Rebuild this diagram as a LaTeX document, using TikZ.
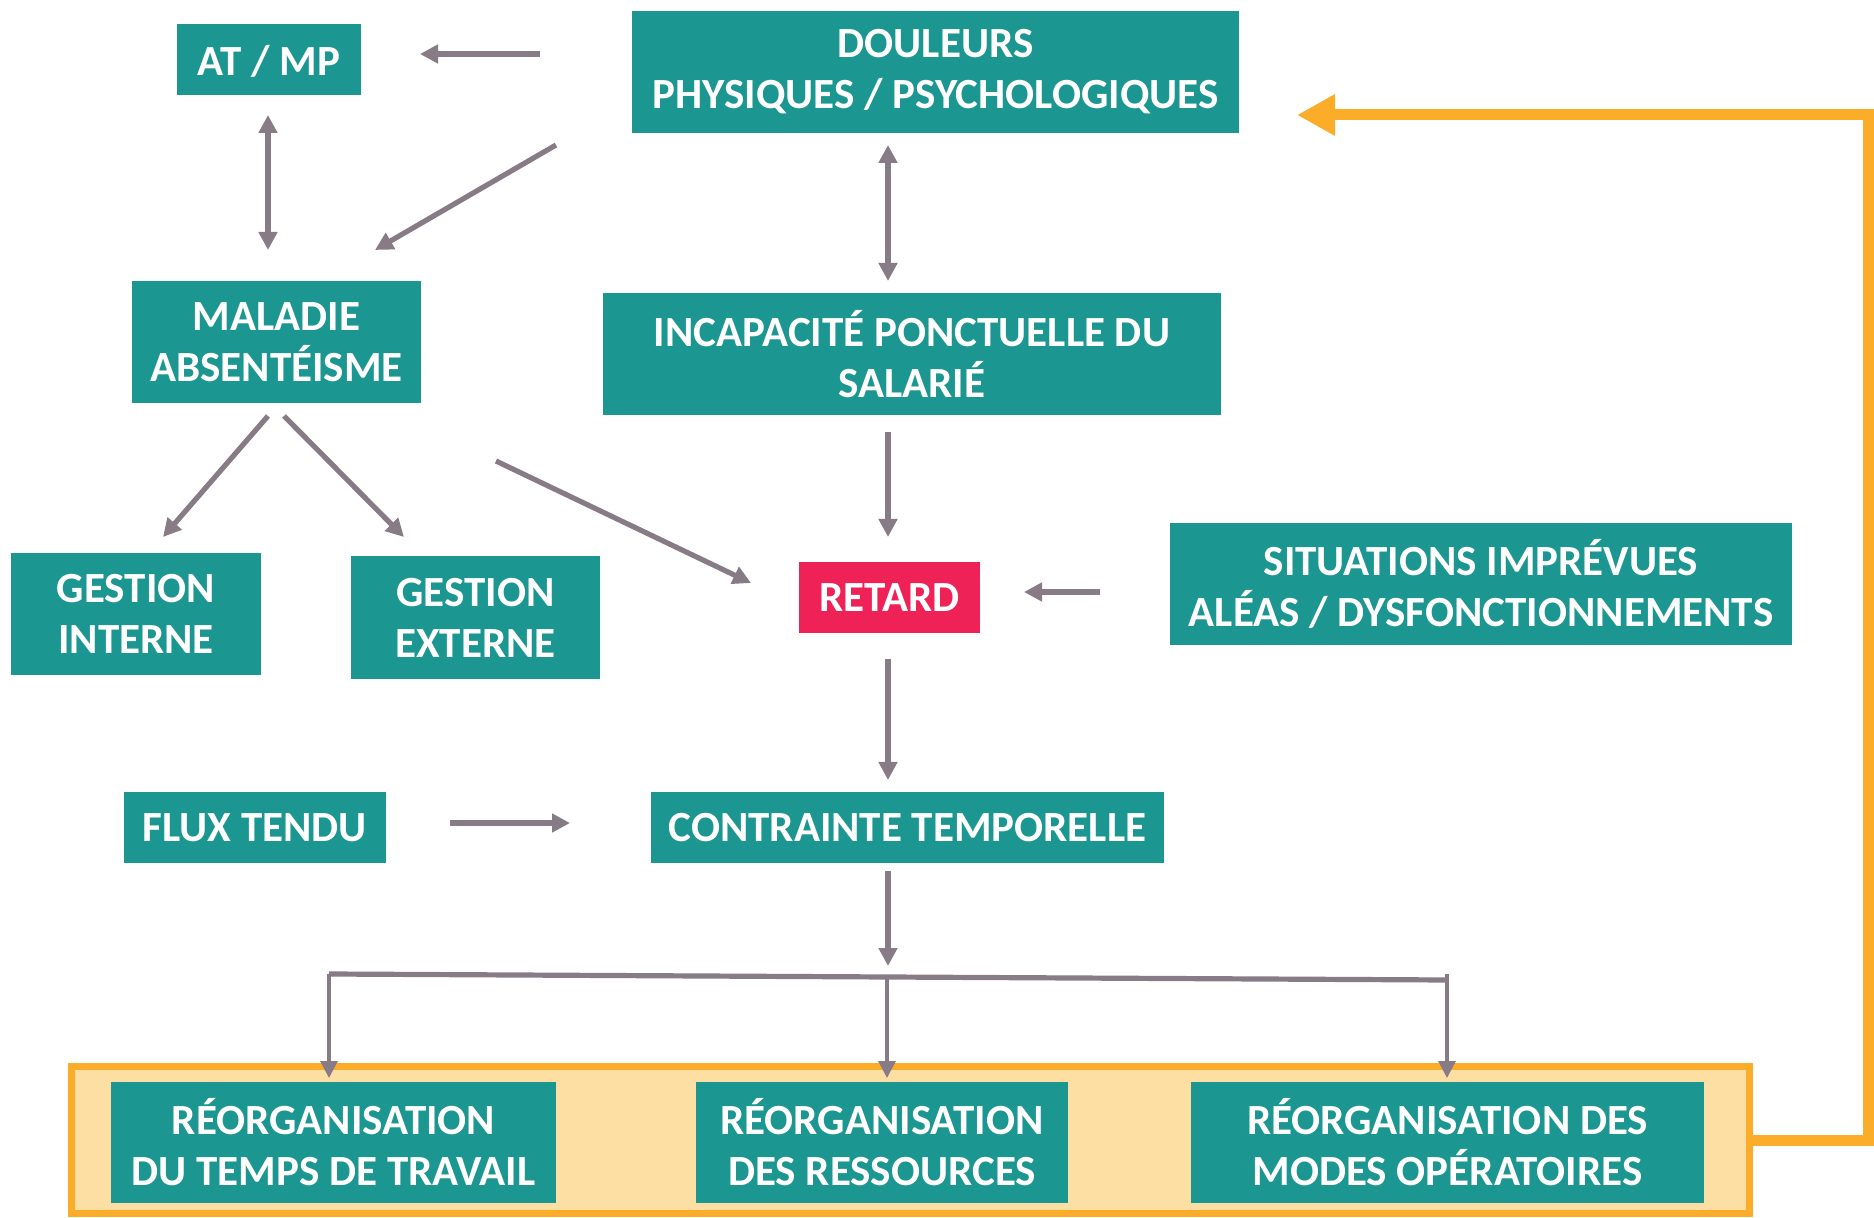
\documentclass[tikz,border=0pt]{standalone}
\usepackage{fontspec}
\setmainfont{Carlito}
\usetikzlibrary{arrows.meta}

\definecolor{boxteal}{HTML}{1B9690}
\definecolor{retardred}{HTML}{EE2256}
\definecolor{arrowgray}{HTML}{877B85}
\definecolor{loop}{HTML}{FBAD2A}
\definecolor{panel}{HTML}{FDDFA3}

\tikzset{
  box/.style={fill=boxteal, text=white, inner sep=0pt, align=center,
    font=\bfseries\fontsize{21.5}{25.5}\selectfont},
  redbox/.style={box, fill=retardred},
  % taller first line pushes the text a little lower in its box
  lowtext/.style={execute at begin node={\rule{0pt}{#1}}},
  garrow/.style={draw=arrowgray, line width=2.6pt,
    -{Triangle[length=9pt,width=9pt]}},
  gboth/.style={draw=arrowgray, line width=2.6pt,
    {Triangle[length=9pt,width=9pt]}-{Triangle[length=9pt,width=9pt]}},
  branch/.style={draw=arrowgray, line width=1.6pt,
    -{Triangle[length=8.5pt,width=8.5pt]}},
  feedback/.style={draw=loop, line width=5.5pt, line join=miter,
    -{Triangle[length=19pt,width=19.5pt]}},
}

\begin{document}
\begin{tikzpicture}[x=0.5pt,y=-0.5pt]
\useasboundingbox (0,0) rectangle (1874,1218);

% framed panel holding the three reorganisation boxes
\node[draw=loop, line width=3.5pt, fill=panel, minimum width=839pt,
      minimum height=73.5pt, inner sep=0pt] (reorg) at (910.5,1140) {};

% boxes
\node[box, lowtext=17pt, minimum width=92pt, minimum height=35.5pt] (atmp) at (269,59.5) {AT / MP};
\node[box, minimum width=303.5pt, minimum height=61pt]   (doul)   at (935.5,72)  {DOULEURS\\PHYSIQUES / PSYCHOLOGIQUES};
\node[box, minimum width=144.5pt, minimum height=61pt]   (mal)    at (276.5,342) {MALADIE\\ABSENTÉISME};
\node[box, minimum width=309pt,   minimum height=61pt]   (incap)  at (912,354)   {INCAPACITÉ PONCTUELLE DU\\SALARIÉ};
\node[box, minimum width=125pt,   minimum height=61pt]   (gint)   at (136,614)   {GESTION\\INTERNE};
\node[box, minimum width=124.5pt, minimum height=61.5pt] (gext)   at (475.5,617.5) {GESTION\\EXTERNE};
\node[redbox, minimum width=90.5pt, minimum height=35.5pt] (retard) at (889.5,597.5) {RETARD};
\node[box, minimum width=311pt,   minimum height=61pt]   (sit)    at (1481,584)  {SITUATIONS IMPRÉVUES\\ALÉAS / DYSFONCTIONNEMENTS};
\node[box, minimum width=131pt,   minimum height=35.5pt] (flux)   at (255,827.5) {FLUX TENDU};
\node[box, minimum width=256.5pt, minimum height=35.5pt] (contr)  at (907.5,827.5) {CONTRAINTE TEMPORELLE};
\node[box, minimum width=222.5pt, minimum height=60.5pt] (r1)     at (333.5,1142.5) {RÉORGANISATION\\DU TEMPS DE TRAVAIL};
\node[box, minimum width=186pt,   minimum height=60.5pt] (r2)     at (882,1142.5) {RÉORGANISATION\\DES RESSOURCES};
\node[box, minimum width=256.5pt, minimum height=60.5pt] (r3)     at (1447.5,1142.5) {RÉORGANISATION DES\\MODES OPÉRATOIRES};

% connector end points
\coordinate (dA) at (540,54);   \coordinate (dB) at (420,54);
\coordinate (mA) at (268,115);  \coordinate (mB) at (268,250);
\coordinate (dC) at (556,145);  \coordinate (dD) at (375,250);
\coordinate (iA) at (888,145);  \coordinate (iB) at (888,281);
\coordinate (gA) at (268,416);  \coordinate (gB) at (163,537);
\coordinate (gC) at (284,416);  \coordinate (gD) at (404,537);
\coordinate (rA) at (496,461);  \coordinate (rB) at (751,583);
\coordinate (rC) at (888,432);  \coordinate (rD) at (888,537);
\coordinate (sA) at (1100,592); \coordinate (sB) at (1024,592);
\coordinate (cA) at (888,659);  \coordinate (cB) at (888,780);
\coordinate (fA) at (450,823);  \coordinate (fB) at (570,823);
\coordinate (tA) at (888,871);  \coordinate (tB) at (888,966);
\coordinate (bL) at (329,974);  \coordinate (bR) at (1447,980);
\coordinate (bM) at (887,977);
\coordinate (b1) at (329,1078); \coordinate (b2) at (887,1078); \coordinate (b3) at (1447,1078);
\coordinate (lp) at (1868,115); \coordinate (lt) at (1297,115);

% gray connectors
\draw[garrow] (dA) -- (dB);
\draw[gboth]  (mA) -- (mB);
\draw[garrow] (dC) -- (dD);
\draw[gboth]  (iA) -- (iB);
\draw[garrow] (gA) -- (gB);
\draw[garrow] (gC) -- (gD);
\draw[garrow] (rA) -- (rB);
\draw[garrow] (rC) -- (rD);
\draw[garrow] (sA) -- (sB);
\draw[garrow] (cA) -- (cB);
\draw[garrow] (fA) -- (fB);
\draw[garrow] (tA) -- (tB);

% distribution bar and its three branches
\draw[draw=arrowgray, line width=2.6pt] (bL) -- (bR);
\draw[branch] (bL) -- (b1);
\draw[branch] (bM) -- (b2);
\draw[branch] ([yshift=3pt]bR) -- (b3);

% feedback loop back to the top
\draw[feedback] (reorg.east) -- (reorg.east -| lp) -- (lp) -- (lt);
\end{tikzpicture}
\end{document}
